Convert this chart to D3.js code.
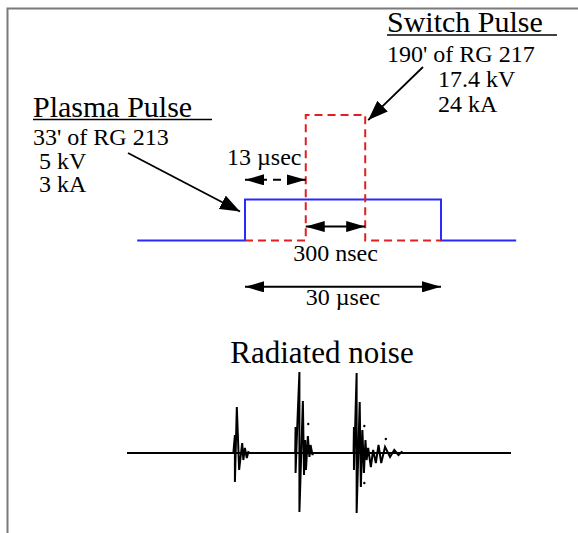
<!DOCTYPE html>
<html>
<head>
<meta charset="utf-8">
<script src="https://cdn.jsdelivr.net/npm/d3@7"></script>
<style>
  html, body { margin: 0; padding: 0; background: #fff; }
  svg { display: block; }
  text { font-family: "Liberation Serif", "Times New Roman", serif; fill: #000; }
</style>
</head>
<body>
<svg id="chart" width="578" height="533"></svg>
<script>
// ---------- DATA ----------
// Pulse timing diagram (schematic time units; plasma pulse spans 0..30 µs)
const plasmaTime  = [-16.5, 0, 0, 30, 30, 41.5];
const plasmaLevel = [0, 0, 1, 1, 0, 0];
const switchTime  = [0, 9.3, 9.3, 18.4, 18.4, 30];
const switchLevel = [0, 0, 3.06, 3.06, 0, 0];

// Dimension annotations: [from, to, level]
const dimLabels = ["13 µsec", "300 nsec", "30 µsec"];
const dimFrom   = [0, 9.3, 0];
const dimTo     = [9.3, 18.4, 30];
const dimLevel  = [1.48, 0.34, -1.13];

// Source descriptions
const plasmaTitle = "Plasma Pulse";
const plasmaLines = ["33' of RG 213", " 5 kV", " 3 kA"];
const switchTitle = "Switch Pulse";
const switchLines = ["190' of RG 217", "17.4 kV", "24 kA"];

// Radiated noise trace (time units 0..100, amplitude arbitrary units)
const noiseTitle = "Radiated noise";
const burst1T = [27.7, 28.1, 28.1, 28.6, 29.2, 30.0, 30.3, 30.7, 31.2, 31.6, 32.0];
const burst1A = [0, 18, -29, 46, -17, 10, -7, 5, -5, 1, 0];
const burst2T = [43.8, 43.9, 43.9, 44.4, 44.9, 44.9, 45.8, 46.1, 46.4, 46.6, 47.1, 47.5, 47.8, 48.3, 48.5];
const burst2A = [0, 26, -20, 33, 81, -59, 52, -22, 13, -17, 17, -4, 8, -2, 0];
const burst3T = [59.0, 59.1, 59.1, 59.5, 59.8, 59.8, 60.6, 60.9, 61.3, 61.7, 62.1, 62.4, 62.8, 63.5, 64.1, 64.8, 65.5, 66.2, 67.2, 68.5, 69.6, 70.7, 71.5, 71.9];
const burst3A = [0, 26, -17, 38, 80, -60, 51, -34, 23, -20, 13, -7, 5, -14, 3, -10, 8, -10, 6, -4, 3, -2, 1, 0];
const noiseDotT = [47.2, 61.8, 61.8, 67.4];
const noiseDotA = [29, 27, -30, 14];

// ---------- SCALES ----------
const svg = d3.select("#chart");
const x = d3.scaleLinear().domain([0, 30]).range([245, 441]);
const y = d3.scaleLinear().domain([0, 1]).range([240.5, 199.5]);
const nx = d3.scaleLinear().domain([0, 100]).range([127, 511]);
const ny = d3.scaleLinear().domain([-100, 100]).range([553, 353]);

// Frame
svg.append("path").attr("d", "M7.5,533 V8.5 H578")
  .attr("fill", "none").attr("stroke", "#7a7a7a").attr("stroke-width", 2);

// Arrow markers
const defs = svg.append("defs");
function marker(id, len, half) {
  defs.append("marker").attr("id", id)
    .attr("markerUnits", "userSpaceOnUse")
    .attr("viewBox", `0 ${-half} ${len} ${2 * half}`)
    .attr("refX", len).attr("refY", 0)
    .attr("markerWidth", len).attr("markerHeight", 2 * half)
    .attr("orient", "auto-start-reverse")
    .append("path").attr("d", `M0,${-half} L${len},0 L0,${half} Z`).attr("fill", "#000");
}
marker("headDim", 19, 5.5);
marker("headBig", 20, 7.5);

const line = d3.line();

// Plasma pulse (blue)
svg.append("path")
  .attr("d", line(plasmaTime.map((t, i) => [x(t), y(plasmaLevel[i])])))
  .attr("fill", "none").attr("stroke", "#2a2aff").attr("stroke-width", 2);

// Switch pulse (red dashed)
svg.append("path")
  .attr("d", line(switchTime.map((t, i) => [x(t), y(switchLevel[i])])))
  .attr("fill", "none").attr("stroke", "#e02020").attr("stroke-width", 2)
  .attr("stroke-dasharray", "8,5");

// Dimension arrows
dimLabels.forEach((lab, i) => {
  svg.append("line")
    .attr("x1", x(dimFrom[i])).attr("x2", x(dimTo[i]))
    .attr("y1", y(dimLevel[i])).attr("y2", y(dimLevel[i]))
    .attr("stroke", "#000").attr("stroke-width", 2)
    .attr("stroke-dasharray", i === 0 ? "8,6" : null)
    .attr("marker-start", "url(#headDim)").attr("marker-end", "url(#headDim)");
});
// Dimension labels
svg.append("text").attr("x", x(dimFrom[0]) - 18).attr("y", y(dimLevel[0]) - 15)
  .attr("font-size", 24).text(dimLabels[0]);
svg.append("text").attr("x", (x(dimFrom[1]) + x(dimTo[1])) / 2).attr("y", y(dimLevel[1]) + 34)
  .attr("text-anchor", "middle").attr("font-size", 24).text(dimLabels[1]);
svg.append("text").attr("x", (x(dimFrom[2]) + x(dimTo[2])) / 2).attr("y", y(dimLevel[2]) + 18)
  .attr("text-anchor", "middle").attr("font-size", 24).text(dimLabels[2]);

// Plasma pulse description
svg.append("text").attr("x", 33).attr("y", 117).attr("font-size", 30).text(plasmaTitle);
svg.append("line").attr("x1", 33).attr("x2", 212).attr("y1", 119.5).attr("y2", 119.5)
  .attr("stroke", "#000").attr("stroke-width", 1.6);
plasmaLines.forEach((s, i) => {
  svg.append("text").attr("x", 33).attr("y", 145 + i * 23.5)
    .attr("font-size", 24).attr("xml:space", "preserve").style("white-space", "pre").text(s);
});
svg.append("line").attr("x1", 128).attr("y1", 153)
  .attr("x2", x(0) - 5).attr("y2", y(1) + 12)
  .attr("stroke", "#000").attr("stroke-width", 1.8).attr("marker-end", "url(#headBig)");

// Switch pulse description
svg.append("text").attr("x", 387).attr("y", 32).attr("font-size", 30).text(switchTitle);
svg.append("line").attr("x1", 387).attr("x2", 557).attr("y1", 35).attr("y2", 35)
  .attr("stroke", "#000").attr("stroke-width", 1.6);
svg.append("text").attr("x", 387).attr("y", 62).attr("font-size", 24).text(switchLines[0]);
svg.append("text").attr("x", 438).attr("y", 87).attr("font-size", 24).text(switchLines[1]);
svg.append("text").attr("x", 438).attr("y", 112).attr("font-size", 24).text(switchLines[2]);
svg.append("line").attr("x1", 423).attr("y1", 67)
  .attr("x2", x(18.4) + 3).attr("y2", y(3.06) + 5)
  .attr("stroke", "#000").attr("stroke-width", 1.8).attr("marker-end", "url(#headBig)");

// Radiated noise
svg.append("text").attr("x", (nx(0) + nx(100)) / 2 + 3).attr("y", 363)
  .attr("text-anchor", "middle").attr("font-size", 31).text(noiseTitle);
svg.append("line").attr("x1", nx(0)).attr("x2", nx(100)).attr("y1", ny(0)).attr("y2", ny(0))
  .attr("stroke", "#000").attr("stroke-width", 2.2);
[[burst1T, burst1A], [burst2T, burst2A], [burst3T, burst3A]].forEach(([T, A]) => {
  svg.append("path")
    .attr("d", line(T.map((t, i) => [nx(t), ny(A[i])])))
    .attr("fill", "none").attr("stroke", "#000").attr("stroke-width", 2)
    .attr("stroke-linejoin", "miter").attr("stroke-miterlimit", 3);
});
noiseDotT.forEach((t, i) => {
  svg.append("circle").attr("cx", nx(t)).attr("cy", ny(noiseDotA[i])).attr("r", 1.2).attr("fill", "#000");
});
</script>
</body>
</html>
